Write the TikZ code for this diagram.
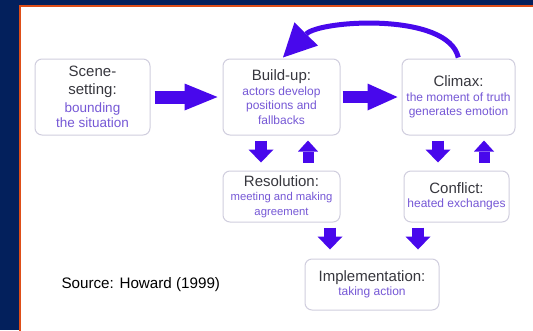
\documentclass[tikz,border=0pt]{standalone}
\usepackage{fontspec}
\setmainfont{Liberation Sans}
\usetikzlibrary{arrows.meta}

\definecolor{navy}{RGB}{3,32,92}
\definecolor{rimorange}{RGB}{222,78,24}
\definecolor{arrowblue}{RGB}{72,8,236}
\definecolor{boxline}{RGB}{208,206,222}
\definecolor{titlegray}{RGB}{55,55,62}
\definecolor{subpurple}{RGB}{118,88,214}

% title line and description line of a stage box
\newcommand{\ttl}[1]{{\fontsize{15}{17}\selectfont\color{titlegray}#1}}
\newcommand{\sbl}[1]{{\color{subpurple}#1}}

\tikzset{
  stage/.style={draw=boxline, line width=1pt, rounded corners=7pt, fill=white,
    align=center, inner sep=0pt, font=\fontsize{12}{14.5}\selectfont},
  bigarrow/.style={draw=arrowblue, line width=13pt,
    -{Triangle[length=33pt,width=27pt,line width=0pt]}},
  midarrow/.style={draw=arrowblue, line width=12pt,
    -{Triangle[length=30pt,width=27pt,line width=0pt]}},
  downarrow/.style={draw=arrowblue, line width=12pt,
    -{Triangle[length=13pt,width=25pt,line width=0pt]}},
  uparrow/.style={draw=arrowblue, line width=11pt,
    -{Triangle[length=11pt,width=20pt,line width=0pt]}},
  looparrow/.style={draw=arrowblue, line width=5pt,
    -{Triangle[length=33pt,width=33pt,line width=0pt]}},
}

\begin{document}
\begin{tikzpicture}[x=1pt,y=-1pt]
  \useasboundingbox (0,0) rectangle (533,330);
  \clip (0,0) rectangle (533,330);

  % frame and white panel
  \fill[navy] (0,0) rectangle (533,330);
  \fill[white] (20,6) rectangle (545,345);
  \draw[rimorange, line width=2pt] (20,345) -- (20,6) -- (545,6);

  % stages
  \node[stage, minimum width=115pt, minimum height=76pt,
        font=\fontsize{13.5}{15}\selectfont] (scene) at (92.5,97)
    {\ttl{Scene-}\\[3pt]\ttl{setting:}\\[3pt]\sbl{bounding}\\\sbl{the situation}};
  \node[stage, minimum width=117pt, minimum height=76pt] (build) at (281.5,97)
    {\ttl{Build-up:}\\\sbl{actors develop}\\\sbl{positions and}\\\sbl{fallbacks}};
  \node[stage, minimum width=113pt, minimum height=76pt] (climax) at (458.5,97)
    {\ttl{Climax:}\\\sbl{the moment of truth}\\\sbl{generates emotion}};
  \node[stage, minimum width=117pt, minimum height=51pt,
        font=\fontsize{11.3}{14.5}\selectfont] (resolution) at (281.5,196.5)
    {\ttl{Resolution:}\\\sbl{meeting and making}\\\sbl{agreement}};
  \node[stage, minimum width=105pt, minimum height=51pt] (conflict) at (456.5,196.5)
    {\ttl{Conflict:}\\\sbl{heated exchanges}};
  \node[stage, minimum width=134pt, minimum height=51pt] (impl) at (372,284.5)
    {\ttl{Implementation:}\\\sbl{taking action}};

  \node[anchor=base west, font=\fontsize{15.2}{18}\selectfont] (source) at (58,288)
    {Source: Howard (1999)};

  % main sequence
  \draw[bigarrow, shorten <=4pt, shorten >=5pt] (scene.east) -- (build.west);
  \draw[midarrow, shorten <=2pt, shorten >=4pt] (build.east) -- (climax.west);

  % exchanges with the lower stages
  \draw[downarrow, shorten <=5pt, shorten >=8pt]
    ([xshift=-20.5pt]build.south) -- ([xshift=-20.5pt]resolution.north);
  \draw[uparrow, shorten <=8pt, shorten >=5pt]
    ([xshift=26.5pt]resolution.north) -- ([xshift=26.5pt]build.south);
  \draw[downarrow, shorten <=5pt, shorten >=8pt]
    ([xshift=-20.5pt]climax.south) -- ([xshift=-18.5pt]conflict.north);
  \draw[uparrow, shorten <=8pt, shorten >=5pt]
    ([xshift=27.5pt]conflict.north) -- ([xshift=25.5pt]climax.south);
  \draw[downarrow, shorten <=5pt, shorten >=9pt]
    ([xshift=48.5pt]resolution.south) -- ([xshift=-42pt]impl.north);
  \draw[downarrow, shorten <=5pt, shorten >=9pt]
    ([xshift=-38.5pt]conflict.south) -- ([xshift=46pt]impl.north);

  % return loop from climax back to build-up
  \draw[looparrow, shorten <=1pt]
    (climax.north) .. controls (448,12) and (320,20) .. ([xshift=1.5pt,yshift=1pt]build.north);
\end{tikzpicture}
\end{document}
